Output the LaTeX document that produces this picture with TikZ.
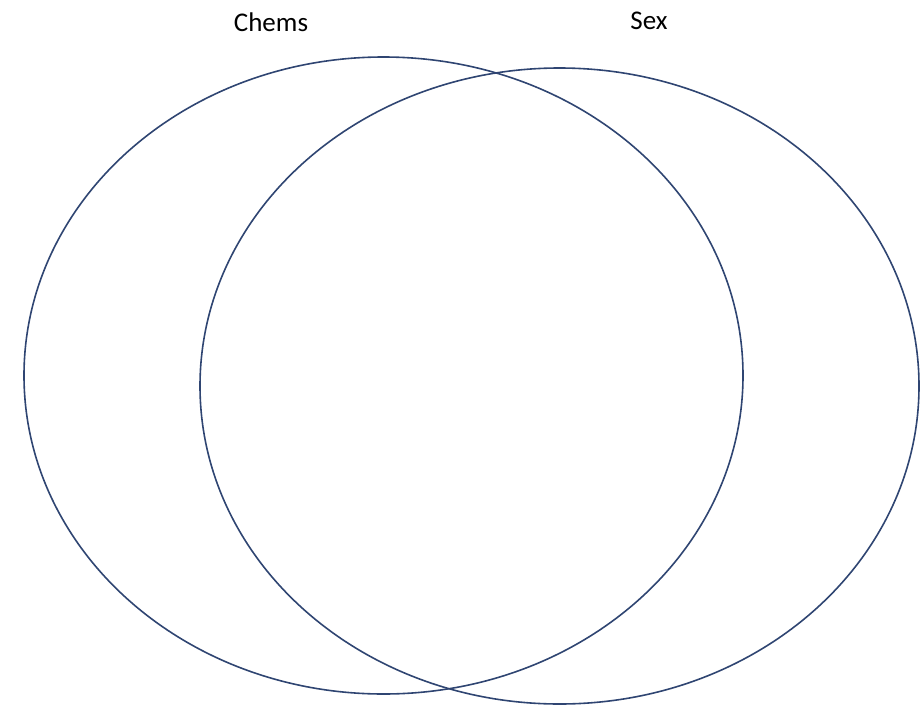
\documentclass[tikz,border=0pt]{standalone}
\usepackage{fontspec}
\setmainfont{Carlito}
\definecolor{venn}{HTML}{2F4572}
\begin{document}
\begin{tikzpicture}[x=1pt,y=-1pt,
  setline/.style={draw=venn,line width=1.6pt},
  lbl/.style={font=\fontsize{27}{32}\selectfont,text=black,inner sep=0pt}]
\useasboundingbox (0,0) rectangle (923,707);
\draw[setline] (383.5,375.5) ellipse [x radius=359.5, y radius=318.5];
\draw[setline] (559.5,386) ellipse [x radius=359.5, y radius=318];
\node[lbl] (chems) at (271,22) {Chems};
\node[lbl] (sex) at (649,21) {Sex};
\end{tikzpicture}
\end{document}
